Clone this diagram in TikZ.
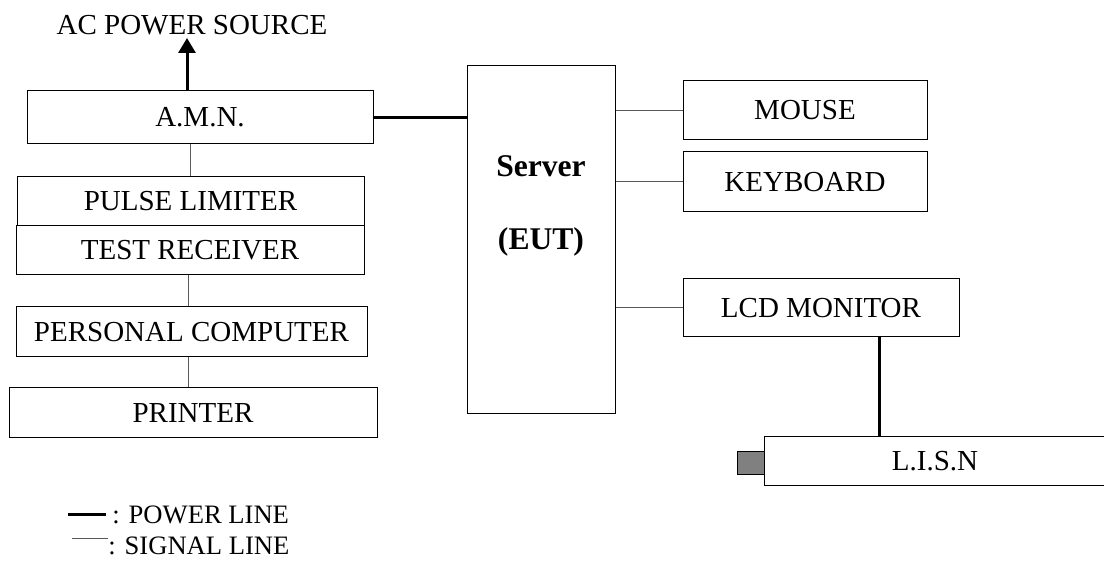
\documentclass[tikz,border=0pt]{standalone}
\usepackage{fontspec}
\setmainfont{Liberation Serif}
\usetikzlibrary{arrows.meta,calc}
\begin{document}
\begin{tikzpicture}[x=0.5pt,y=-0.5pt,
  every node/.style={font=\fontsize{14.5pt}{17pt}\selectfont},
  box/.style={draw=black,line width=0.5pt,inner sep=0pt,fill=white},
  txt/.style={inner sep=0pt},
  legtxt/.style={inner sep=0pt,font=\fontsize{13.3pt}{16pt}\selectfont},
  bold/.style={inner sep=0pt,font=\fontsize{15.8pt}{18pt}\selectfont\bfseries},
  signal/.style={draw=black!65,line width=0.5pt},
  power/.style={draw=black,line width=1.5pt},
  tip/.style={-{Triangle[length=7.5pt,width=8.5pt]}}]
\useasboundingbox (0,0) rectangle (1104,565);
% left column
\node[box,minimum width=173pt,minimum height=26.5pt] (amn) at (200,117.5) {A.M.N.};
\node[box,minimum width=173.5pt,minimum height=24.5pt] (pulse) at (190.5,201.5) {PULSE LIMITER};
\node[box,minimum width=174pt,minimum height=24.5pt] (test) at (190,250.5) {TEST RECEIVER};
\node[box,minimum width=175.5pt,minimum height=25pt] (pc) at (191.5,332) {PERSONAL COMPUTER};
\node[box,minimum width=184pt,minimum height=25pt] (printer) at (193,413) {PRINTER};
\node[txt] (ac) at (192,25) {AC POWER SOURCE};
\coordinate (actip) at (187,38);
% server
\node[box,minimum width=74pt,minimum height=174pt] (server) at (541,240) {};
\node[bold] (srv1) at (541,166) {Server};
\node[bold] (srv2) at (541,242) {(EUT)};
% right column
\node[box,minimum width=122pt,minimum height=29.5pt] (mouse) at (805,110.5) {MOUSE};
\node[box,minimum width=122pt,minimum height=30pt] (kbd) at (805,182) {KEYBOARD};
\node[box,minimum width=138pt,minimum height=29pt] (lcd) at (821,308) {LCD MONITOR};
\node[box,draw=black,fill=black!50,minimum width=13.5pt,minimum height=11.5pt] (plug) at (750.5,463.5) {};
\node[box,minimum width=171pt,minimum height=24.5pt] (lisn) at (935,461.5) {L.I.S.N};
% connectors
\draw[power,tip] (amn.north -| actip) -- (actip);
\draw[signal] (amn.south -| pulse.north) -- (pulse.north);
\draw[signal] ([xshift=-1pt]test.south) -- ([xshift=-1pt]test.south |- pc.north);
\draw[signal] ([xshift=-1.75pt]pc.south) -- ([xshift=-1.75pt]pc.south |- printer.north);
\draw[power] (amn.east) -- (amn.east -| server.west);
\draw[signal] (mouse.west -| server.east) -- (mouse.west);
\draw[signal] (kbd.west -| server.east) -- (kbd.west);
\draw[signal] (lcd.west -| server.east) -- (lcd.west);
\draw[power] ([xshift=29pt]lcd.south) -- ([xshift=29pt]lcd.south |- lisn.north);
% legend
\coordinate (pw1) at (68,515);
\coordinate (pw2) at (106,515);
\coordinate (sg1) at (72,539);
\coordinate (sg2) at (108,539);
\draw[power] (pw1) -- (pw2);
\draw[signal] (sg1) -- (sg2);
\node[legtxt,anchor=west] (legp) at (112,515) {: POWER LINE};
\node[legtxt,anchor=west] (legs) at (108,546) {: SIGNAL LINE};
\end{tikzpicture}
\end{document}
